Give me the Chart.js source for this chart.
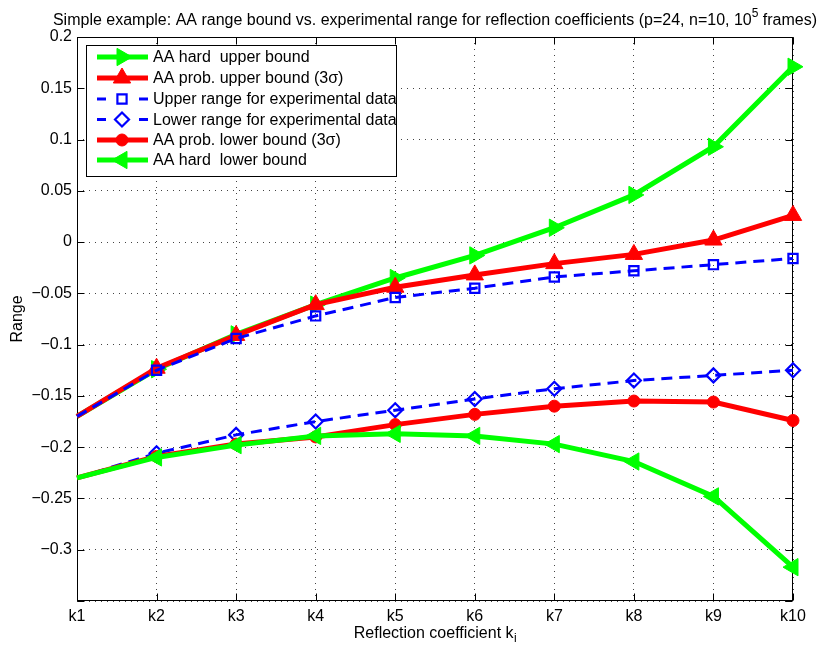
<!DOCTYPE html>
<html>
<head>
<meta charset="utf-8">
<script src="https://cdn.jsdelivr.net/npm/chart.js@4.4.0/dist/chart.umd.min.js"></script>
<style>
  html, body { margin: 0; padding: 0; background: #fff; }
  #wrap { width: 821px; height: 646px; }
</style>
</head>
<body>
<div id="wrap"><canvas id="c" width="821" height="646"></canvas></div>
<script>
// Reflection coefficients k1..k10
const coefficients = ['k1', 'k2', 'k3', 'k4', 'k5', 'k6', 'k7', 'k8', 'k9', 'k10'];

// Range bounds per coefficient
const hardUpper = [-0.170, -0.124, -0.090, -0.061, -0.035, -0.013, 0.014, 0.046, 0.093, 0.171];
const probUpper = [-0.170, -0.123, -0.091, -0.061, -0.044, -0.032, -0.021, -0.012, 0.002, 0.026];
const expUpper  = [-0.170, -0.125, -0.094, -0.072, -0.054, -0.045, -0.034, -0.028, -0.022, -0.016];
const expLower  = [-0.230, -0.206, -0.188, -0.175, -0.164, -0.153, -0.143, -0.135, -0.130, -0.125];
const probLower = [-0.230, -0.209, -0.197, -0.190, -0.178, -0.168, -0.160, -0.155, -0.156, -0.174];
const hardLower = [-0.230, -0.210, -0.198, -0.189, -0.187, -0.189, -0.197, -0.214, -0.248, -0.317];

// Y axis range and tick step
const yMin = -0.35;
const yMax = 0.2;
const yStep = 0.05;

const seriesLabels = [
  'AA hard  upper bound',
  'AA prob. upper bound (3\u03C3)',
  'Upper range for experimental data',
  'Lower range for experimental data',
  'AA prob. lower bound (3\u03C3)',
  'AA hard  lower bound'
];

const FONT = '"Liberation Sans", Arial, Helvetica, sans-serif';
const FS = 16;
const GREEN = '#00ff00', RED = '#ff0000', BLUE = '#0000ff';

// markers start at k2; k1 is the common starting value
function markerSize(r) {
  return (c) => (c.dataIndex === 0 ? 0 : r);
}

function series(label, data, color, style, order) {
  const r = style.markerRadius;
  delete style.markerRadius;
  return Object.assign({
    label: label,
    data: data,
    borderColor: color,
    pointBorderColor: color,
    tension: 0,
    clip: false,
    order: order,
    legendRadius: r,
    pointRadius: markerSize(r)
  }, style);
}

const datasets = [
  series(seriesLabels[0], hardUpper, GREEN, {
    borderWidth: 5, pointStyle: 'triangle', rotation: 90, markerRadius: 10,
    pointBackgroundColor: GREEN, pointBorderWidth: 1
  }, 6),
  series(seriesLabels[1], probUpper, RED, {
    borderWidth: 5, pointStyle: 'triangle', rotation: 0, markerRadius: 10,
    pointBackgroundColor: RED, pointBorderWidth: 1
  }, 5),
  series(seriesLabels[2], expUpper, BLUE, {
    borderWidth: 3, borderDash: [11, 7], pointStyle: 'rect', markerRadius: 6.5,
    pointBackgroundColor: 'rgba(0,0,0,0)', pointBorderWidth: 2.2
  }, 4),
  series(seriesLabels[3], expLower, BLUE, {
    borderWidth: 3, borderDash: [11, 7], pointStyle: 'rectRot', markerRadius: 7,
    pointBackgroundColor: 'rgba(0,0,0,0)', pointBorderWidth: 2.2
  }, 3),
  series(seriesLabels[4], probLower, RED, {
    borderWidth: 5, pointStyle: 'circle', markerRadius: 6,
    pointBackgroundColor: RED, pointBorderWidth: 1
  }, 2),
  series(seriesLabels[5], hardLower, GREEN, {
    borderWidth: 5, pointStyle: 'triangle', rotation: -90, markerRadius: 10,
    pointBackgroundColor: GREEN, pointBorderWidth: 1
  }, 1)
];

function fmtTick(v) {
  const r = Math.round(v * 100) / 100;
  if (r < yMin + 1e-9) return '';
  return String(r).replace('-', '\u2212');
}

// Axes box with inward tick marks, drawn underneath the data
const axesBox = {
  id: 'axesBox',
  beforeDatasetsDraw(chart) {
    const { ctx, chartArea: a, scales: { x, y } } = chart;
    const L = Math.round(a.left) + 0.5, R = Math.round(a.right) - 0.5;
    const T = Math.round(a.top) + 0.5, B = Math.round(a.bottom) - 0.5;
    ctx.save();
    ctx.strokeStyle = '#000';
    ctx.lineWidth = 1;
    ctx.beginPath();
    x.ticks.forEach((t, i) => {
      const px = Math.round(x.getPixelForTick(i)) + 0.5;
      ctx.moveTo(px, B); ctx.lineTo(px, B - 7);
      ctx.moveTo(px, T); ctx.lineTo(px, T + 7);
    });
    y.ticks.forEach((t, i) => {
      const py = Math.round(y.getPixelForTick(i)) + 0.5;
      ctx.moveTo(L, py); ctx.lineTo(L + 7, py);
      ctx.moveTo(R, py); ctx.lineTo(R - 7, py);
    });
    ctx.stroke();
    ctx.strokeRect(L, T, R - L, B - T);
    ctx.restore();
  }
};

// Title, axis titles and the boxed legend
const annotations = {
  id: 'annotations',
  afterDraw(chart) {
    const { ctx, chartArea: a } = chart;
    const cx = (a.left + a.right) / 2;
    ctx.save();
    ctx.fillStyle = '#000';
    ctx.textBaseline = 'alphabetic';
    ctx.textAlign = 'left';

    // Title with superscript exponent
    const t1 = 'Simple example: AA range bound vs. experimental range for reflection coefficients (p=24, n=10, 10';
    const tSup = '5';
    const t2 = ' frames)';
    const big = FS + 'px ' + FONT, small = '12px ' + FONT;
    ctx.font = big;
    const w1 = ctx.measureText(t1).width, w2 = ctx.measureText(t2).width;
    ctx.font = small;
    const ws = ctx.measureText(tSup).width;
    let tx = cx - (w1 + ws + w2) / 2;
    const ty = 25;
    ctx.font = big; ctx.fillText(t1, tx, ty); tx += w1;
    ctx.font = small; ctx.fillText(tSup, tx, ty - 8); tx += ws;
    ctx.font = big; ctx.fillText(t2, tx, ty);

    // X axis title with subscript
    const xl = 'Reflection coefficient k', xs = 'i';
    const xf = FS + 'px ' + FONT, xsf = '12px ' + FONT;
    ctx.font = xf; const wx = ctx.measureText(xl).width;
    ctx.font = xsf; const wxs = ctx.measureText(xs).width;
    const xx = cx - (wx + wxs) / 2;
    ctx.font = xf; ctx.fillText(xl, xx, 638);
    ctx.font = xsf; ctx.fillText(xs, xx + wx + 0.5, 642);

    // Y axis title
    ctx.save();
    ctx.translate(22, (a.top + a.bottom) / 2);
    ctx.rotate(-Math.PI / 2);
    ctx.textAlign = 'center';
    ctx.font = FS + 'px ' + FONT;
    ctx.fillText('Range', 0, 0);
    ctx.restore();

    // Legend
    const bx = 86.5, by = 45.5, bw = 310, bh = 131;
    ctx.fillStyle = '#fff';
    ctx.fillRect(bx, by, bw, bh);
    const rowY = [57, 78, 99, 119.5, 140, 160];
    chart.data.datasets.forEach((ds, i) => {
      const yy = rowY[i];
      ctx.save();
      ctx.strokeStyle = ds.borderColor;
      ctx.lineWidth = ds.borderWidth;
      if (ds.borderDash) {
        ctx.beginPath(); ctx.moveTo(97, yy); ctx.lineTo(106, yy); ctx.stroke();
        ctx.beginPath(); ctx.moveTo(139, yy); ctx.lineTo(148, yy); ctx.stroke();
      } else {
        ctx.beginPath(); ctx.moveTo(97, yy); ctx.lineTo(148, yy); ctx.stroke();
      }
      ctx.restore();
      ctx.save();
      ctx.fillStyle = ds.pointBackgroundColor;
      ctx.strokeStyle = ds.pointBorderColor;
      ctx.lineWidth = ds.pointBorderWidth;
      Chart.helpers.drawPoint(ctx, {
        pointStyle: ds.pointStyle,
        rotation: ds.rotation || 0,
        radius: ds.legendRadius,
        borderWidth: ds.pointBorderWidth
      }, 122, yy);
      ctx.restore();
      ctx.fillStyle = '#000';
      ctx.font = FS + 'px ' + FONT;
      ctx.textBaseline = 'middle';
      ctx.fillText(ds.label, 153, yy + 1);
    });
    ctx.strokeStyle = '#000';
    ctx.lineWidth = 1;
    ctx.strokeRect(bx, by, bw, bh);
    ctx.restore();
  }
};

new Chart(document.getElementById('c'), {
  type: 'line',
  data: { labels: coefficients, datasets: datasets },
  options: {
    responsive: false,
    animation: false,
    devicePixelRatio: 1,
    layout: { padding: { top: 37, right: 28, left: 0, bottom: 0 } },
    plugins: {
      legend: { display: false },
      tooltip: { enabled: false },
      title: { display: false }
    },
    scales: {
      x: {
        offset: false,
        afterFit(s) { s.height = 45; },
        grid: { color: '#444', lineWidth: 1, drawTicks: false },
        border: { display: false, dash: [1, 5] },
        ticks: { color: '#000', padding: 6, maxRotation: 0, autoSkip: false,
                 font: { family: FONT, size: FS } }
      },
      y: {
        min: yMin,
        max: yMax,
        afterFit(s) { s.width = 77; },
        grid: { color: '#444', lineWidth: 1, drawTicks: false },
        border: { display: false, dash: [1, 5] },
        ticks: { stepSize: yStep, color: '#000', padding: 5, callback: fmtTick,
                 font: { family: FONT, size: FS } }
      }
    }
  },
  plugins: [axesBox, annotations]
});
</script>
</body>
</html>
